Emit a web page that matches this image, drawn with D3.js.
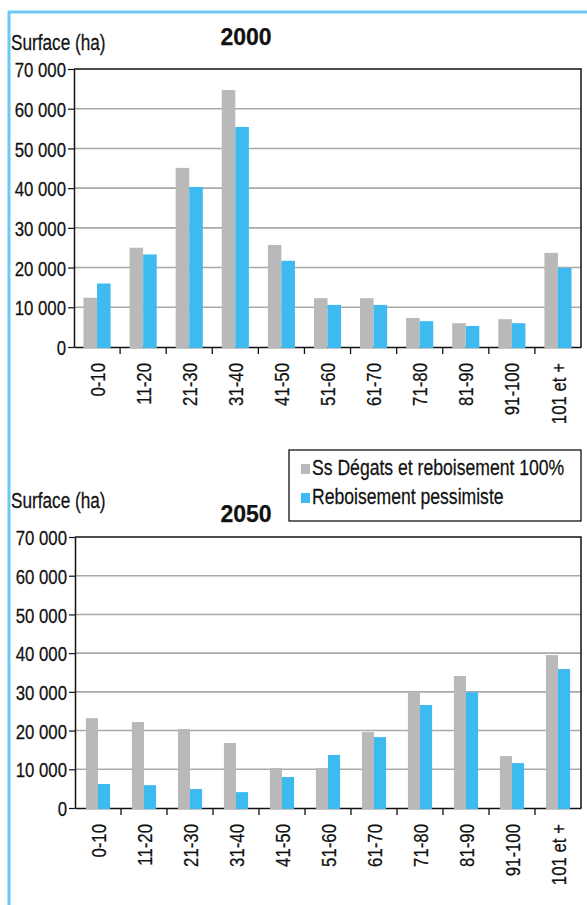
<!DOCTYPE html>
<html><head><meta charset="utf-8">
<script src="https://cdn.jsdelivr.net/npm/d3@7/dist/d3.min.js"></script>
<style>
html,body{margin:0;padding:0;background:#fff;}
svg{display:block;}
text{font-family:"Liberation Sans",Arial,sans-serif;fill:#111;stroke:#111;stroke-width:0.25px;}
</style></head>
<body>
<script>
const categories = ["0-10","11-20","21-30","31-40","41-50","51-60","61-70","71-80","81-90","91-100","101 et +"];
const seriesNames = ["Ss Dégats et reboisement 100%","Reboisement pessimiste"];
const values2000Ref = [12400,25000,45100,64700,25700,12300,12300,7300,6000,7000,23700];
const values2000Pes = [16000,23300,40300,55400,21700,10600,10600,6500,5300,6000,19900];
const values2050Ref = [23200,22200,20400,16800,10300,10300,19600,29800,34100,13400,39500];
const values2050Pes = [6200,5900,4900,4100,8000,13700,18300,26600,29900,11600,35900];
const yTicks = [0,10000,20000,30000,40000,50000,60000,70000];
const yLabel = "Surface (ha)";
const titles = ["2000","2050"];

const W = 587, H = 905;
const colors = ["#b9b9b9","#3dbbf0"];
const NX = 0.8; // horizontal condensing of the narrow font
const fmt = d3.formatLocale({decimal:",",thousands:" ",grouping:[3],currency:["",""]}).format(",d");

const svg = d3.select("body").append("svg").attr("width",W).attr("height",H);

// frame
svg.append("line").attr("x1",8).attr("x2",W).attr("y1",12).attr("y2",12).attr("stroke","#6ccaf2").attr("stroke-width",3);
svg.append("line").attr("x1",9).attr("x2",9).attr("y1",11).attr("y2",H).attr("stroke","#6ccaf2").attr("stroke-width",3);

function narrowText(sel, x, y, size, txt, anchor){
  return sel.append("text").attr("transform",`translate(${x},${y}) scale(${NX},1)`)
    .attr("font-size",size).attr("text-anchor",anchor||"start").text(txt);
}

function drawChart(cfg){
  const {left,right,top,bottom,ref,pes,title,titleY,labelY,innerPad} = cfg;
  const g = svg.append("g");
  const x = d3.scaleBand().domain(categories).range([left,right]).padding(0);
  const xs = d3.scaleBand().domain([0,1]).range([0,x.bandwidth()]).paddingInner(0).paddingOuter(innerPad);
  const y = d3.scaleLinear().domain([0,70000]).range([bottom,top]);

  // gridlines
  g.append("g").selectAll("line").data(yTicks.filter(d=>d>0 && d<70000)).join("line")
    .attr("x1",left).attr("x2",right).attr("y1",d=>y(d)).attr("y2",d=>y(d))
    .attr("stroke","#a9a9a9").attr("stroke-width",1.6);

  // frame box top/right
  g.append("path").attr("d",`M${left},${top}H${right}V${bottom}`).attr("fill","none").attr("stroke","#111").attr("stroke-width",1.5);

  // y axis
  const ya = g.append("g").attr("transform",`translate(${left},0)`)
    .call(d3.axisLeft(y).tickValues(yTicks).tickFormat(fmt).tickSize(6).tickSizeOuter(0));
  ya.select(".domain").attr("stroke","#111").attr("stroke-width",1.5);
  ya.selectAll(".tick line").attr("stroke","#111").attr("stroke-width",1.2);
  ya.selectAll(".tick text").attr("font-size",21).attr("x",-8/NX).attr("dy","0.36em")
    .attr("transform",`scale(${NX},1)`)
    .style("font-family",'"Liberation Sans",Arial,sans-serif').attr("fill","#111");

  // x axis
  const xa = g.append("g").attr("transform",`translate(0,${bottom})`)
    .call(d3.axisBottom(x).tickSize(0).tickSizeOuter(0));
  xa.select(".domain").attr("stroke","#111").attr("stroke-width",1.5);
  xa.selectAll(".tick text").attr("font-size",21)
    .style("font-family",'"Liberation Sans",Arial,sans-serif').attr("fill","#111")
    .attr("text-anchor","end").attr("transform",`rotate(-90) scale(${NX},1)`)
    .attr("x",-16/NX).attr("y",0).attr("dy","0.36em");
  // boundary ticks
  g.append("g").selectAll("line").data(categories.slice(1)).join("line")
    .attr("x1",d=>x(d)).attr("x2",d=>x(d)).attr("y1",bottom).attr("y2",bottom+7)
    .attr("stroke","#111").attr("stroke-width",1.3);

  // bars
  const data = categories.map((c,i)=>({c,vals:[ref[i],pes[i]]}));
  const cg = g.append("g").selectAll("g").data(data).join("g").attr("transform",d=>`translate(${x(d.c)},0)`);
  cg.selectAll("rect").data(d=>d.vals.map((v,k)=>({v,k}))).join("rect")
    .attr("x",d=>xs(d.k)).attr("width",xs.bandwidth())
    .attr("y",d=>y(d.v)).attr("height",d=>y(0)-y(d.v)+1)
    .attr("fill",d=>colors[d.k]);

  narrowText(g, 11, labelY, 21.5, yLabel);
  g.append("text").attr("x",246).attr("y",titleY).attr("text-anchor","middle")
    .attr("font-size",23).attr("font-weight","bold").text(title);
}

drawChart({left:74,right:581,top:69,bottom:347,ref:values2000Ref,pes:values2000Pes,title:titles[0],titleY:45,labelY:50,innerPad:0.7});
drawChart({left:75,right:581,top:537,bottom:808,ref:values2050Ref,pes:values2050Pes,title:titles[1],titleY:522,labelY:508,innerPad:0.9});

// legend
const lg = svg.append("g");
lg.append("rect").attr("x",289).attr("y",450).attr("width",292).attr("height",71)
  .attr("fill","#fff").attr("stroke","#111").attr("stroke-width",1.3);
seriesNames.forEach((name,i)=>{
  const yy = 464 + i*29;
  lg.append("rect").attr("x",301).attr("y",yy).attr("width",9).attr("height",10).attr("fill",colors[i]);
  narrowText(lg, 312, yy+10.5, 22, name);
});
</script>
</body></html>
